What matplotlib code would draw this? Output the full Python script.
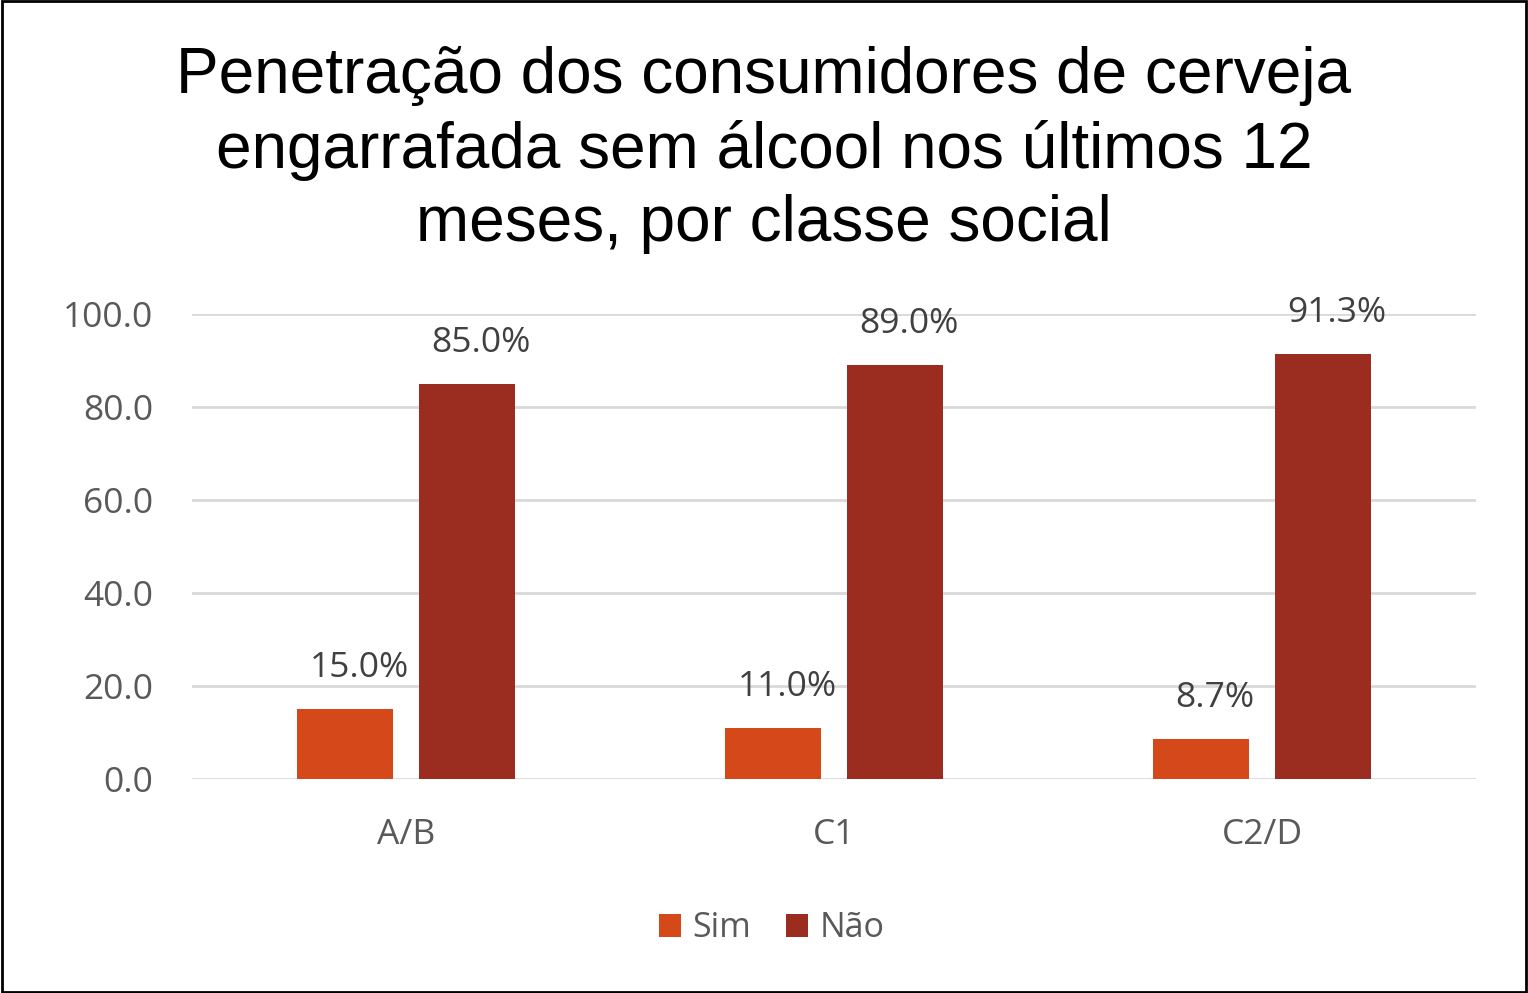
import numpy as np
import matplotlib.pyplot as plt
from matplotlib.patches import Rectangle

categories = ['A/B', 'C1', 'C2/D']
sim = [15.0, 11.0, 8.7]
nao = [85.0, 89.0, 91.3]
series_names = ['Sim', 'Não']
yticks = [0, 20, 40, 60, 80, 100]

col_sim = '#D4481A'
col_nao = '#9B2C20'
gray = '#595959'
fs = 25.5

fig = plt.figure(figsize=(15.28, 9.93), dpi=100)
fig.patches.append(Rectangle((0.001, 0.001), 0.998, 0.998, transform=fig.transFigure,
                             fill=False, edgecolor='black', linewidth=2))

ax = fig.add_axes([0.1257, 0.2155, 0.8403, 0.4683])
x = np.arange(len(categories))
w = 0.224
off = 0.1425
b1 = ax.bar(x - off, sim, w, color=col_sim, label=series_names[0], zorder=3)
b2 = ax.bar(x + off, nao, w, color=col_nao, label=series_names[1], zorder=3)

# data labels (Excel puts them a touch right of the bar centre)
for bars, vals in ((b1, sim), (b2, nao)):
    for r, v in zip(bars, vals):
        ax.annotate(f'{v:.1f}%', xy=(r.get_x() + r.get_width() / 2, v), xytext=(10, 29.5),
                    textcoords='offset points', ha='center', va='center',
                    fontsize=fs, color='#404040', family='Open Sans', annotation_clip=False)

ax.set_xlim(-0.5, 2.5)
ax.set_ylim(0, 100)
ax.set_yticks(yticks)
ax.set_yticklabels([f'{t:.1f}' for t in yticks], fontsize=fs, color=gray, family='Open Sans')
ax.set_xticks(x)
ax.set_xticklabels(categories, fontsize=fs, color=gray, family='Open Sans')
ax.tick_params(length=0)
ax.tick_params(axis='y', pad=28)
ax.tick_params(axis='x', pad=28)
ax.grid(axis='y', color='#D9D9D9', linewidth=2, zorder=0)
for s in ax.spines.values():
    s.set_visible(False)

fig.text(0.5, 0.849, 'Penetração dos consumidores de cerveja\nengarrafada sem álcool nos últimos 12\nmeses, por classe social',
         ha='center', va='center', fontsize=46, family='Liberation Sans', linespacing=1.28)

leg = fig.legend(handles=[b1, b2], labels=series_names, loc='center', bbox_to_anchor=(0.505, 0.065),
                 ncol=2, frameon=False, prop={'family': 'Open Sans', 'size': 24.5},
                 handlelength=0.65, handleheight=0.65, handletextpad=0.35, columnspacing=1.0)
for t in leg.get_texts():
    t.set_color(gray)

fig.savefig('out.png', dpi=100)
